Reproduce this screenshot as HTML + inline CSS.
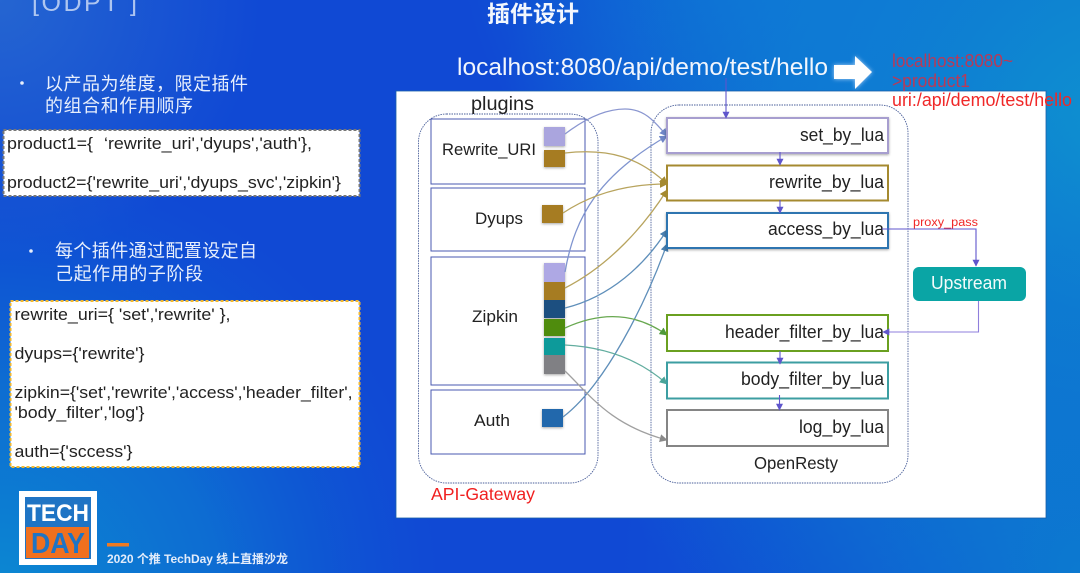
<!DOCTYPE html>
<html><head><meta charset="utf-8">
<style>
html,body{margin:0;padding:0;background:#0f55d0;overflow:hidden}
svg{display:block;position:absolute;left:0;top:0;filter:blur(0.35px)}
text{font-family:"Liberation Sans","Noto Sans CJK SC",sans-serif}
</style></head>
<body>
<svg width="1080" height="573" viewBox="0 0 1080 573" xmlns="http://www.w3.org/2000/svg">
<defs>
<radialGradient id="rt" gradientUnits="userSpaceOnUse" cx="1120" cy="140" r="620">
<stop offset="0" stop-color="#0e92d0"/><stop offset="0.55" stop-color="#0e82d2" stop-opacity="0.75"/><stop offset="1" stop-color="#0e70d4" stop-opacity="0"/>
</radialGradient>
<radialGradient id="rb" gradientUnits="userSpaceOnUse" cx="0" cy="600" r="440">
<stop offset="0" stop-color="#0c8ad2"/><stop offset="0.5" stop-color="#0c78d2" stop-opacity="0.75"/><stop offset="1" stop-color="#0c60d2" stop-opacity="0"/>
</radialGradient>
<radialGradient id="rm" gradientUnits="userSpaceOnUse" cx="1080" cy="573" r="460">
<stop offset="0" stop-color="#0c7cd0" stop-opacity="0.9"/><stop offset="1" stop-color="#0c66d0" stop-opacity="0"/>
</radialGradient>
<radialGradient id="rc" gradientUnits="userSpaceOnUse" cx="760" cy="-60" r="300">
<stop offset="0" stop-color="#0e7ed6" stop-opacity="0.8"/><stop offset="1" stop-color="#0e7ed6" stop-opacity="0"/>
</radialGradient>
<radialGradient id="rl" gradientUnits="userSpaceOnUse" cx="0" cy="0" r="260">
<stop offset="0" stop-color="#2a6cd0" stop-opacity="0.8"/><stop offset="1" stop-color="#2a6cd0" stop-opacity="0"/>
</radialGradient>
<filter id="sh" x="-30%" y="-30%" width="170%" height="170%"><feDropShadow dx="0" dy="1" stdDeviation="1.200" flood-color="#000" flood-opacity="0.35"/></filter>
<filter id="gl" x="-30%" y="-30%" width="170%" height="170%"><feDropShadow dx="0" dy="0" stdDeviation="2" flood-color="#cfe4ff" flood-opacity="0.8"/></filter>
<marker id="a" viewBox="0 0 10 10" refX="9" refY="5" markerWidth="7" markerHeight="7" orient="auto" markerUnits="userSpaceOnUse"><path d="M0 0L10 5L0 10z" fill="#5f55cc"/></marker>
<marker id="al" viewBox="0 0 10 10" refX="9" refY="5" markerWidth="8" markerHeight="8" orient="auto" markerUnits="userSpaceOnUse"><path d="M0 0L10 5L0 10z" fill="#6f86c8"/></marker>
<marker id="ab" viewBox="0 0 10 10" refX="9" refY="5" markerWidth="8" markerHeight="8" orient="auto" markerUnits="userSpaceOnUse"><path d="M0 0L10 5L0 10z" fill="#a58a30"/></marker>
<marker id="an" viewBox="0 0 10 10" refX="9" refY="5" markerWidth="8" markerHeight="8" orient="auto" markerUnits="userSpaceOnUse"><path d="M0 0L10 5L0 10z" fill="#4a80b0"/></marker>
<marker id="ag" viewBox="0 0 10 10" refX="9" refY="5" markerWidth="8" markerHeight="8" orient="auto" markerUnits="userSpaceOnUse"><path d="M0 0L10 5L0 10z" fill="#4f9a3a"/></marker>
<marker id="at" viewBox="0 0 10 10" refX="9" refY="5" markerWidth="8" markerHeight="8" orient="auto" markerUnits="userSpaceOnUse"><path d="M0 0L10 5L0 10z" fill="#4aa59a"/></marker>
<marker id="ay" viewBox="0 0 10 10" refX="9" refY="5" markerWidth="8" markerHeight="8" orient="auto" markerUnits="userSpaceOnUse"><path d="M0 0L10 5L0 10z" fill="#8a8a8a"/></marker>
</defs>

<rect width="1080" height="573" fill="#1049d4"/>
<rect width="1080" height="573" fill="url(#rt)"/>
<rect width="1080" height="573" fill="url(#rb)"/>
<rect width="1080" height="573" fill="url(#rm)"/>
<rect width="1080" height="573" fill="url(#rc)"/>
<rect width="1080" height="573" fill="url(#rl)"/>

<!-- faded title at top -->
<text x="32" y="11" font-size="25" fill="#dfe9fb" opacity="0.75" textLength="105" lengthAdjust="spacing">[ODPT ]</text>

<text x="487" y="22" font-size="22.500" font-weight="bold" fill="#f2f6fd" textLength="92" lengthAdjust="spacingAndGlyphs">插件设计</text>
<text x="457" y="75" font-size="24" fill="#f2f6fd" textLength="371" lengthAdjust="spacingAndGlyphs">localhost:8080/api/demo/test/hello</text>

<!-- big arrow -->
<path d="M834 65H855V56L872 72L855 89V79H834z" fill="#fff" filter="url(#gl)"/>

<!-- left bullets -->
<circle cx="22" cy="83" r="1.800" fill="#e8effc"/>
<text x="45" y="90" font-size="18" fill="#e8effc" textLength="203" lengthAdjust="spacing">以产品为维度，限定插件</text>
<text x="45" y="112" font-size="18" fill="#e8effc" textLength="148" lengthAdjust="spacing">的组合和作用顺序</text>

<rect x="3.500" y="130" width="356" height="66" fill="#fff" stroke="#777" stroke-width="2" stroke-dasharray="3 2"/>
<text x="7" y="149" font-size="17" fill="#222" textLength="86" lengthAdjust="spacingAndGlyphs">product1={</text>
<text x="104" y="149" font-size="17" fill="#222" textLength="208" lengthAdjust="spacingAndGlyphs">‘rewrite_uri','dyups','auth'},</text>
<text x="7" y="188" font-size="17" fill="#222" textLength="334" lengthAdjust="spacingAndGlyphs">product2={'rewrite_uri','dyups_svc','zipkin'}</text>

<circle cx="31" cy="251" r="1.800" fill="#e8effc"/>
<text x="55" y="257" font-size="18" fill="#e8effc" textLength="202" lengthAdjust="spacing">每个插件通过配置设定自</text>
<text x="55" y="280" font-size="18" fill="#e8effc" textLength="148" lengthAdjust="spacing">己起作用的子阶段</text>

<rect x="10.500" y="301" width="349" height="166" fill="#fff" stroke="#f2b82e" stroke-width="2" stroke-dasharray="3 2"/>
<g font-size="17" fill="#222">
<text x="14.500" y="320" textLength="216" lengthAdjust="spacingAndGlyphs">rewrite_uri={ 'set','rewrite' },</text>
<text x="14.500" y="359" textLength="130" lengthAdjust="spacingAndGlyphs">dyups={'rewrite'}</text>
<text x="14.500" y="398" textLength="338" lengthAdjust="spacingAndGlyphs">zipkin={'set','rewrite','access','header_filter',</text>
<text x="14.500" y="418" textLength="130" lengthAdjust="spacingAndGlyphs">'body_filter','log'}</text>
<text x="14.500" y="457" textLength="118" lengthAdjust="spacingAndGlyphs">auth={'sccess'}</text>
</g>

<!-- logo -->
<rect x="19" y="491" width="78" height="74" fill="#fff"/>
<rect x="25" y="497" width="66" height="62" fill="#1f74c4"/>
<text x="27" y="521" font-size="24" font-weight="bold" fill="#fff" textLength="62" lengthAdjust="spacingAndGlyphs">TECH</text>
<rect x="26" y="527" width="63" height="31" fill="#f0701e"/>
<text x="31" y="553" font-size="29" font-weight="bold" fill="#1f74c4" textLength="54" lengthAdjust="spacingAndGlyphs">DAY</text>
<rect x="107" y="543" width="22" height="3.500" fill="#ef7a22"/>
<text x="107" y="563" font-size="12" font-weight="bold" fill="#e3ecfa" textLength="181" lengthAdjust="spacing">2020 个推 TechDay 线上直播沙龙</text>

<!-- white panel -->
<rect x="396" y="91" width="650" height="427" fill="#fff" stroke="#1a5fa8" stroke-width="0.800"/>

<!-- red overlay text -->
<g font-size="18">
<text x="892" y="67" fill="#b83a58" textLength="121" lengthAdjust="spacingAndGlyphs">localhost:8080~</text>
<text x="892" y="87" fill="#b83a58" textLength="78" lengthAdjust="spacingAndGlyphs">&gt;product1</text>
<text x="892" y="106" fill="#f02828" textLength="180" lengthAdjust="spacingAndGlyphs">uri:/api/demo/test/hello</text>
</g>

<!-- containers -->
<rect x="418.500" y="114" width="179.500" height="369" rx="28" fill="none" stroke="#4a5f9a" stroke-width="0.900" stroke-dasharray="1.500 1"/>
<rect x="651" y="105" width="257" height="378" rx="28" fill="none" stroke="#4a5f9a" stroke-width="0.900" stroke-dasharray="1.500 1"/>

<text x="471" y="110" font-size="19" fill="#222" textLength="63" lengthAdjust="spacingAndGlyphs">plugins</text>
<text x="431" y="500" font-size="17.500" fill="#f02020" textLength="104" lengthAdjust="spacingAndGlyphs">API-Gateway</text>
<text x="754" y="469" font-size="17.500" fill="#222" textLength="84" lengthAdjust="spacingAndGlyphs">OpenResty</text>

<!-- plugin boxes -->
<g fill="#fff" stroke="#4a5ab0" stroke-width="1">
<rect x="431" y="119" width="154" height="65"/>
<rect x="431" y="188" width="154" height="63"/>
<rect x="431" y="257" width="154" height="128"/>
<rect x="431" y="390" width="154" height="64"/>
</g>
<g font-size="17" fill="#222">
<text x="442" y="155" textLength="94" lengthAdjust="spacingAndGlyphs">Rewrite_URI</text>
<text x="475" y="224" textLength="48" lengthAdjust="spacingAndGlyphs">Dyups</text>
<text x="472" y="322" textLength="46" lengthAdjust="spacingAndGlyphs">Zipkin</text>
<text x="474" y="426" textLength="36" lengthAdjust="spacingAndGlyphs">Auth</text>
</g>

<!-- squares -->
<g filter="url(#sh)">
<rect x="544" y="127" width="21" height="19" fill="#aaa5de"/>
<rect x="544" y="150" width="21" height="17" fill="#a67c22"/>
<rect x="542" y="205" width="21" height="18" fill="#a67c22"/>
<rect x="544" y="263" width="21" height="19" fill="#aea8e4"/>
<rect x="544" y="282" width="21" height="18" fill="#a67c22"/>
<rect x="544" y="300" width="21" height="18" fill="#1f4f80"/>
<rect x="544" y="319" width="21" height="17" fill="#4f8c0a"/>
<rect x="544" y="338" width="21" height="17" fill="#0c9a9a"/>
<rect x="544" y="355" width="21" height="19" fill="#808084"/>
<rect x="542" y="409" width="21" height="18" fill="#2268ac"/>
</g>

<!-- connector curves -->
<g fill="none" stroke-width="1.300">
<path d="M565 134C590 115 610 109 625 109C645 109 655 122 667 136" stroke="#8a96d0" marker-end="url(#al)"/>
<path d="M565 272C575 215 600 175 667 136" stroke="#7f94cf" marker-end="url(#al)"/>
<path d="M565 153C610 148 640 158 667 184" stroke="#b8a45e" marker-end="url(#ab)"/>
<path d="M563 213C590 195 625 184 667 184" stroke="#b8a45e" marker-end="url(#ab)"/>
<path d="M565 288C610 265 645 225 667 190" stroke="#b8a45e" marker-end="url(#ab)"/>
<path d="M565 308C610 297 645 265 667 230" stroke="#5f8fba" marker-end="url(#an)"/>
<path d="M563 417C605 385 645 305 667 244" stroke="#5f8fba" marker-end="url(#an)"/>
<path d="M565 328C600 312 635 312 667 335" stroke="#68a850" marker-end="url(#ag)"/>
<path d="M565 345C605 347 640 360 667 384" stroke="#62ad9f" marker-end="url(#at)"/>
<path d="M565 371C590 395 610 425 667 440" stroke="#a0a0a0" marker-end="url(#ay)"/>
</g>

<!-- phase boxes -->
<g fill="#fff" stroke-width="2">
<rect x="667" y="118" width="221" height="35" stroke="#a79ecf" filter="url(#sh)"/>
<rect x="667" y="165.500" width="221" height="35" stroke="#a58a30"/>
<rect x="667" y="213" width="221" height="35" stroke="#2f74b0" filter="url(#sh)"/>
<rect x="667" y="315" width="221" height="36" stroke="#6aa020"/>
<rect x="667" y="362.500" width="221" height="36" stroke="#3c9ea2"/>
<rect x="667" y="410" width="221" height="36" stroke="#858585"/>
</g>
<g font-size="18" fill="#222">
<text x="800" y="141" textLength="84" lengthAdjust="spacingAndGlyphs">set_by_lua</text>
<text x="769" y="188" textLength="115" lengthAdjust="spacingAndGlyphs">rewrite_by_lua</text>
<text x="768" y="235" textLength="116" lengthAdjust="spacingAndGlyphs">access_by_lua</text>
<text x="725" y="338" textLength="159" lengthAdjust="spacingAndGlyphs">header_filter_by_lua</text>
<text x="741" y="385" textLength="143" lengthAdjust="spacingAndGlyphs">body_filter_by_lua</text>
<text x="799" y="433" textLength="85" lengthAdjust="spacingAndGlyphs">log_by_lua</text>
</g>

<!-- flow arrows -->
<g fill="none" stroke="#5f55cc" stroke-width="1.100">
<path d="M726 78V118" marker-end="url(#a)"/>
<path d="M780 152V165" marker-end="url(#a)"/>
<path d="M780 200V213" marker-end="url(#a)"/>
<path d="M882 229H976V266" marker-end="url(#a)"/>
<path d="M780 351V364" marker-end="url(#a)"/>
<path d="M779.500 395V410" marker-end="url(#a)"/>
<path d="M978.500 301V332H883" stroke="#8f7fdc" marker-end="url(#a)"/>
</g>
<text x="913" y="226" font-size="11.500" fill="#f02828" textLength="65" lengthAdjust="spacingAndGlyphs">proxy_pass</text>

<!-- upstream -->
<rect x="913" y="267" width="113" height="34" rx="6" fill="#0aa5a5"/>
<text x="931" y="289" font-size="18" fill="#f4fbfb" textLength="76" lengthAdjust="spacingAndGlyphs">Upstream</text>
</svg>
</body></html>
